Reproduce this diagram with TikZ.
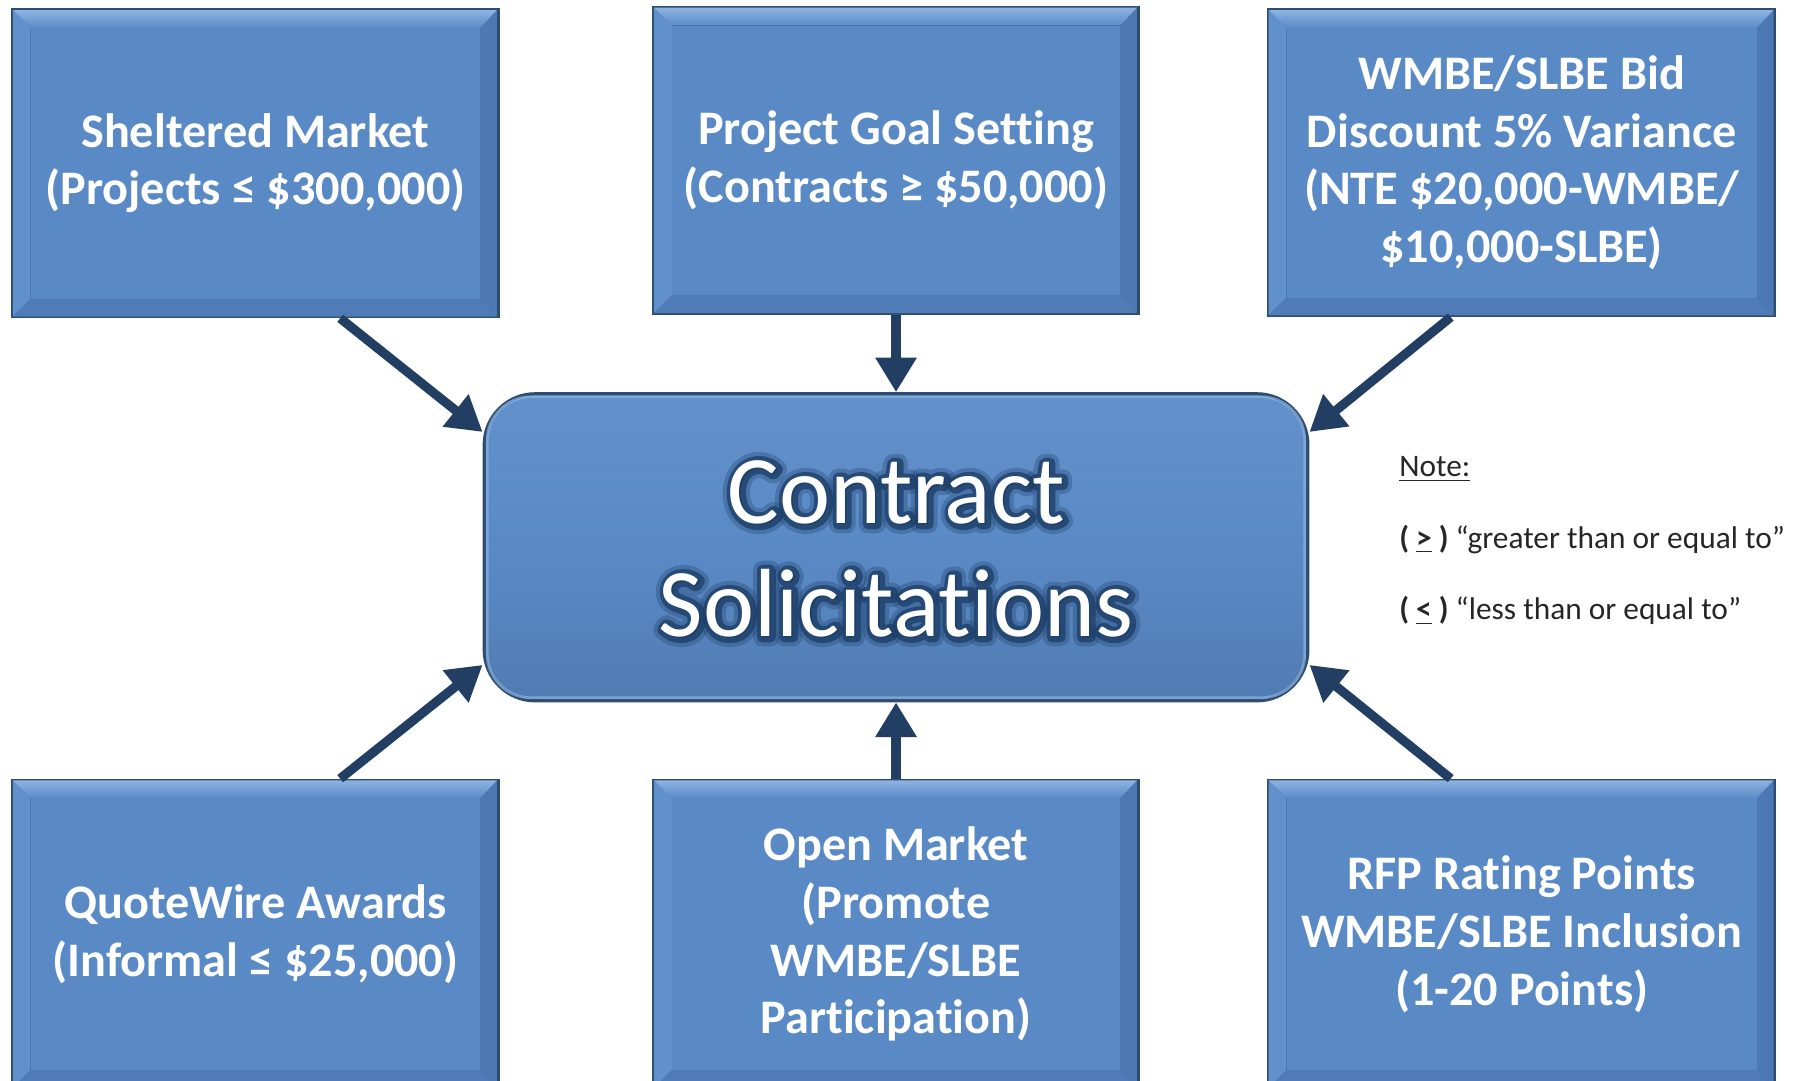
\documentclass[tikz,border=0pt]{standalone}
\usepackage{fontspec}
\setmainfont{Carlito}[Ligatures={NoCommon,NoRare}]
\usetikzlibrary{arrows.meta,calc,backgrounds}
\definecolor{boxblue}{HTML}{5A8AC6}
\definecolor{bevtop}{HTML}{8DB3E2}
\definecolor{bevleft}{HTML}{6091CD}
\definecolor{bevright}{HTML}{4D79B3}
\definecolor{bevbot}{HTML}{4F7CB7}
\definecolor{edgedark}{HTML}{2E4C70}
\definecolor{arrowblue}{HTML}{223E62}
\definecolor{glowblue}{HTML}{1C3D66}
\newcommand\haloon[1]{\special{pdf:literal direct 2 Tr #1 w 1 j}}
\newcommand\halooff{\special{pdf:literal direct 0 Tr}}
\tikzset{
  boxnode/.style={rectangle, inner sep=0pt, text=white, align=center,
    font=\bfseries\fontsize{20.9}{25}\selectfont},
  arr/.style={arrowblue, line width=4pt, -{Triangle[length=15pt,width=17pt]}},
  notetext/.style={anchor=base west, inner sep=0pt, text=black!85,
    font=\fontsize{13.6}{16}\selectfont},
  bigtext/.style={inner sep=0pt, align=center, font=\fontsize{42}{49}\selectfont},
}
\newcommand\bevelbox[1]{%
  \begin{scope}[on background layer]
    \fill[edgedark] (#1.south west) rectangle (#1.north east);
    \coordinate (o1) at ($(#1.south west)+(1.5,1.5)$);
    \coordinate (o2) at ($(#1.north west)+(1.5,-1.5)$);
    \coordinate (o3) at ($(#1.north east)+(-2.5,-1.5)$);
    \coordinate (o4) at ($(#1.south east)+(-2.5,1.5)$);
    \coordinate (i1) at ($(#1.south west)+(17,17)$);
    \coordinate (i2) at ($(#1.north west)+(17,-17)$);
    \coordinate (i3) at ($(#1.north east)+(-17,-17)$);
    \coordinate (i4) at ($(#1.south east)+(-17,17)$);
    \fill[bevleft] (o1)--(o2)--(i2)--(i1)--cycle;
    \fill[bevright] (o4)--(o3)--(i3)--(i4)--cycle;
    \fill[bevbot] (o1)--(o4)--(i4)--(i1)--cycle;
    \shade[top color=bevtop, bottom color=boxblue] (o2)--(o3)--(i3)--(i2)--cycle;
    \fill[boxblue] (i1) rectangle (i3);
  \end{scope}}
\begin{document}
\begin{tikzpicture}[x=0.5pt,y=0.5pt]
\useasboundingbox (0,0) rectangle (1560,936.6);

% outer boxes
\node[boxnode, minimum width=211.5pt, minimum height=134pt] (TL) at (221.5,795)
  {Sheltered Market\\(Projects ≤ \$300,000)};
\bevelbox{TL}
\node[boxnode, minimum width=211pt, minimum height=133.5pt] (TC) at (777,797.5)
  {Project Goal Setting\\(Contracts ≥ \$50,000)};
\bevelbox{TC}
\node[boxnode, minimum width=220.5pt, minimum height=133.5pt] (TR) at (1319.5,795.5)
  {WMBE/SLBE Bid\\Discount 5\% Variance\\(NTE \$20,000-WMBE/\\\$10,000-SLBE)};
\bevelbox{TR}
\node[boxnode, minimum width=211.5pt, minimum height=134.5pt] (BL) at (221.5,126.5)
  {QuoteWire Awards\\(Informal ≤ \$25,000)};
\bevelbox{BL}
\node[boxnode, minimum width=211pt, minimum height=134.5pt] (BC) at (777,126.5)
  {Open Market\\(Promote\\WMBE/SLBE\\Participation)};
\bevelbox{BC}
\node[boxnode, minimum width=220.5pt, minimum height=134.5pt] (BR) at (1319.5,126.5)
  {RFP Rating Points\\WMBE/SLBE Inclusion\\(1-20 Points)};
\bevelbox{BR}

% central box
\node[rectangle, rounded corners=22pt, minimum width=357pt, minimum height=133pt,
      draw=edgedark, line width=1.5pt, top color=boxblue!85!bevtop, bottom color=boxblue!90!black,
      middle color=boxblue]
      (C) at (777,462) {};
\draw[bevtop, opacity=0.7, line width=1.2pt, rounded corners=19pt]
  ($(C.south west)+(4,4)$) rectangle ($(C.north east)+(-4,-4)$);
\node[bigtext, text=glowblue, opacity=0.3] (G1) at ($(C.center)+(1,-2)$)
  {\haloon{8}Contract\\Solicitations\halooff};
\node[bigtext, text=glowblue, opacity=0.75] (G2) at ($(C.center)+(1,-2)$)
  {\haloon{4.5}Contract\\Solicitations\halooff};
\node[bigtext, text=white] (CT) at ($(C.center)+(0,-1)$) {Contract\\Solicitations};

% arrows
\draw[arr] ($(TL.south)+(73.5,0)$) -- ($(C.west)+(0,100)$);
\draw[arr] (TC.south) -- (C.north);
\draw[arr] ($(TR.south)+(-61.5,0)$) -- ($(C.east)+(0,100)$);
\draw[arr] ($(BL.north)+(73.5,0)$) -- ($(C.west)+(0,-102)$);
\draw[arr] (BC.north) -- (C.south);
\draw[arr] ($(BR.north)+(-61.5,0)$) -- ($(C.east)+(0,-102)$);

% note
\node[notetext] (N1) at (1213,523) {\underline{Note:}};
\node[notetext] (N2) at (1213,461) {\textbf{( \underline{>} )} “greater than or equal to”};
\node[notetext] (N3) at (1213,399) {\textbf{( \underline{<} )} “less than or equal to”};
\end{tikzpicture}
\end{document}
